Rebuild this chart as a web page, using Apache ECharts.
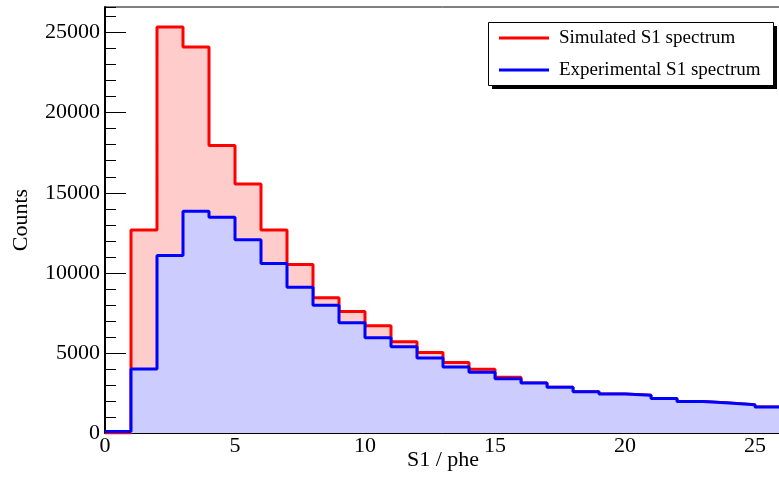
<!DOCTYPE html>
<html>
<head>
<meta charset="utf-8">
<script src="https://cdn.jsdelivr.net/npm/echarts@6/dist/echarts.min.js"></script>
<style>
  html, body { margin: 0; padding: 0; background: #fff; }
  #chart { width: 779px; height: 480px; }
</style>
</head>
<body>
<div id="chart"></div>
<script>
// Histogram bins: lower edges in phe, width 1
const binLowEdges = [0, 1, 2, 3, 4, 5, 6, 7, 8, 9, 10, 11, 12, 13, 14, 15, 16, 17, 18, 19, 20, 21, 22, 23, 24, 25];
const binWidth = 1;

// Counts per bin
const simulatedCounts = [0, 12680, 25350, 24100, 17950, 15550, 12680, 10520, 8450, 7580, 6700, 5700, 5020, 4400, 3980, 3480,
  3120, 2860, 2580, 2440, 2350, 2150, 1960, 1880, 1770, 1630];
const experimentalCounts = [100, 4000, 11080, 13840, 13470, 12070, 10580, 9100, 7980, 6880, 5940, 5380, 4690, 4120, 3800, 3380,
  3120, 2860, 2580, 2440, 2350, 2150, 1960, 1880, 1770, 1630];

const seriesNames = ['Simulated S1 spectrum', 'Experimental S1 spectrum'];
const xTitle = 'S1 / phe';
const yTitle = 'Counts';

// step line points: one at each lower edge plus the closing upper edge
function stepPoints(counts) {
  const pts = binLowEdges.map((x, i) => [x, counts[i]]);
  const last = binLowEdges.length - 1;
  pts.push([binLowEdges[last] + binWidth, counts[last]]);
  return pts;
}

const serif = 'Liberation Serif, Times New Roman, serif';
const plainNumber = v => String(v);
const chart = echarts.init(document.getElementById('chart'), null, { renderer: 'canvas' });

chart.setOption({
  animation: false,
  backgroundColor: '#ffffff',
  grid: {
    left: 105, top: 7, width: 676, height: 426,
    outerBoundsMode: 'none', containLabel: false,
    show: true, borderColor: '#000', borderWidth: 1, backgroundColor: 'transparent'
  },
  // legend frame with its drop shadow
  graphic: [
    {
      type: 'rect', left: 492, top: 26, z: 50,
      shape: { width: 285, height: 63 },
      style: { fill: '#000' }
    },
    {
      type: 'rect', left: 488, top: 22, z: 51,
      shape: { width: 285, height: 63 },
      style: { fill: '#fff', stroke: '#000', lineWidth: 1 }
    }
  ],
  legend: {
    orient: 'vertical',
    left: 488, top: 22, z: 60,
    padding: [6, 14, 7, 11],
    itemGap: 12,
    itemWidth: 50, itemHeight: 3,
    icon: 'rect',
    textStyle: { fontFamily: serif, fontSize: 19, color: '#000', lineHeight: 20, padding: [0, 0, 0, 5] },
    data: seriesNames
  },
  xAxis: {
    type: 'value', min: 0, max: 26, interval: 5,
    name: xTitle, nameLocation: 'middle', nameGap: 16, nameMoveOverlap: false,
    nameTextStyle: { fontFamily: serif, fontSize: 22, color: '#000', verticalAlign: 'top' },
    axisLine: { show: true, lineStyle: { color: '#000', width: 1 } },
    axisTick: { show: false },
    splitLine: { show: false },
    axisLabel: { fontFamily: serif, fontSize: 22, color: '#000', margin: 2, showMaxLabel: false, formatter: plainNumber }
  },
  yAxis: [
    {
      type: 'value', min: 0, max: 26600, interval: 5000,
      name: yTitle, nameLocation: 'middle', nameGap: 73, nameRotate: 90, nameMoveOverlap: false,
      nameTextStyle: { fontFamily: serif, fontSize: 22, color: '#000' },
      axisLine: { show: true, lineStyle: { color: '#000', width: 2 } },
      axisTick: { show: true, inside: true, length: 21, lineStyle: { color: '#000', width: 1 } },
      splitLine: { show: false },
      axisLabel: { fontFamily: serif, fontSize: 22, color: '#000', margin: 5, showMaxLabel: false, formatter: plainNumber }
    },
    {
      type: 'value', min: 0, max: 26600, interval: 1000, position: 'left',
      axisLine: { show: false },
      axisTick: { show: true, inside: true, length: 11, lineStyle: { color: '#000', width: 1 } },
      splitLine: { show: false },
      axisLabel: { show: false }
    }
  ],
  series: [
    {
      name: seriesNames[0], type: 'line', step: 'end', yAxisIndex: 0,
      data: stepPoints(simulatedCounts),
      symbol: 'none', color: '#ff0000', sampling: null,
      lineStyle: { color: '#ff0000', width: 3 },
      areaStyle: { color: '#ffcccc', opacity: 1, origin: 0 },
      z: 2
    },
    {
      name: seriesNames[1], type: 'line', step: 'end', yAxisIndex: 0,
      data: stepPoints(experimentalCounts),
      symbol: 'none', color: '#0000ff', sampling: null,
      lineStyle: { color: '#0000ff', width: 3 },
      areaStyle: { color: '#ccccff', opacity: 1, origin: 0 },
      z: 3
    }
  ]
});
</script>
</body>
</html>
